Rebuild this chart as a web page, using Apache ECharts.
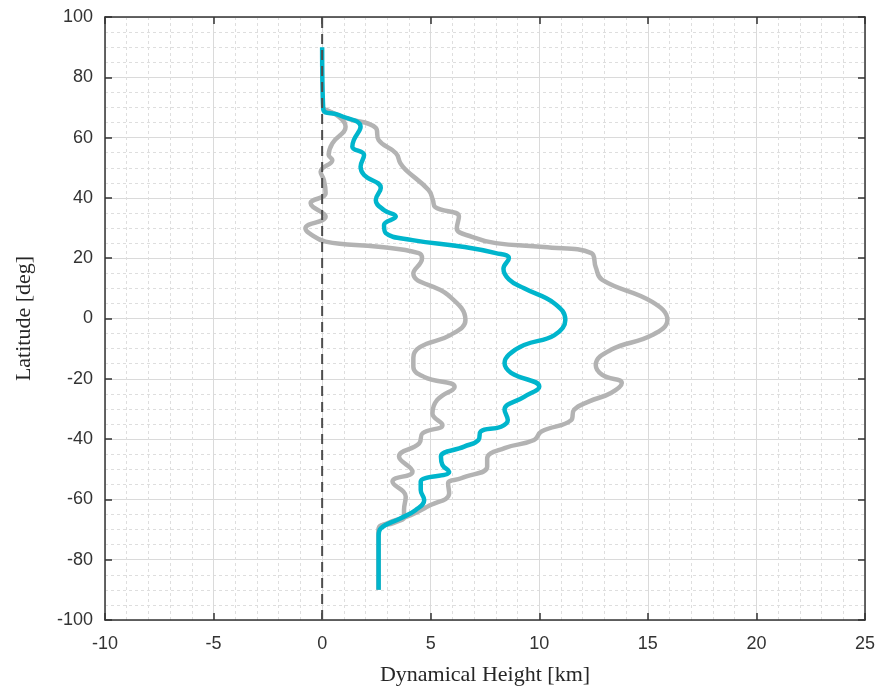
<!DOCTYPE html>
<html>
<head>
<meta charset="utf-8">
<script src="https://cdn.jsdelivr.net/npm/echarts@6/dist/echarts.min.js"></script>
<style>
    html, body { margin: 0; padding: 0; background: #fff; }
    #chart { width: 883px; height: 695px; }
</style>
</head>
<body>
<div id="chart"></div>
<script>
// mean profile (cyan)
const meanLat = [90, 69.5, 67.5, 63.6, 59.2, 57, 54.2, 50.3, 47.6, 43.3, 39.3, 36, 33.8, 31, 28.3, 26, 23.8, 21.7, 20, 16.5, 13, 10, 5, -0.5, -5.5, -8.8, -12, -14.8, -18, -22.6, -26, -30.3, -33.7, -35.9, -37.5, -40.3, -42.5, -45.8, -48.6, -50.8, -54.1, -56.9, -60.2, -63.5, -66.3, -69.6, -72, -90];
const meanX = [0, 0.05, 0.77, 1.77, 1.46, 1.39, 1.93, 1.77, 1.93, 2.7, 2.47, 2.84, 3.39, 2.85, 2.93, 4.16, 6.47, 8.0, 8.6, 8.35, 8.6, 9.3, 10.7, 11.2, 10.7, 9.3, 8.6, 8.4, 8.7, 10.0, 9.3, 8.4, 8.55, 8.24, 7.3, 7.2, 6.54, 5.47, 5.54, 5.85, 4.54, 4.54, 4.7, 4.31, 3.6, 2.7, 2.6, 2.6];

// upper bound (grey, right)
const upperLat = [69.5, 66.5, 63.2, 59.2, 54.8, 51.5, 49.3, 42.6, 39.3, 37, 33.8, 29.9, 27.1, 25, 23.7, 21.7, 17, 12.8, 5.5, -0.5, -5.5, -10.4, -15.4, -18.7, -21.4, -24.7, -27.5, -30.3, -33.7, -37.5, -40.3, -43, -46.4, -49.2, -53, -54.7, -58, -62.4, -65.2, -67.9, -70, -90];
const upperX = [0.05, 1.08, 2.47, 2.6, 3.4, 3.6, 3.85, 4.9, 5.1, 5.2, 6.3, 6.2, 6.9, 8.0, 10.2, 12.4, 12.6, 12.9, 15.2, 15.9, 15.2, 13.3, 12.6, 12.9, 13.8, 13.3, 12.3, 11.6, 11.47, 10.1, 9.76, 8.4, 7.6, 7.6, 6.4, 5.8, 5.85, 4.85, 4.08, 3.0, 2.6, 2.6];

// lower bound (grey, left)
const lowerLat = [69.5, 66.9, 63.6, 58.1, 54.2, 52.6, 48.7, 45.9, 41.6, 38.2, 33.8, 29.9, 28.3, 25.5, 23.8, 21.7, 20, 15, 7.8, -0.5, -5.5, -9.5, -13, -16, -19.4, -22.7, -27, -31.5, -35.3, -38.1, -41.4, -45.8, -50.8, -54.1, -59.1, -63.5, -65.8, -67.8, -70, -90];
const lowerX = [0.05, 0.77, 1.08, 0.47, 0.3, 0.47, -0.07, 0.08, 0.16, -0.53, 0.16, -0.77, -0.6, 0.16, 2.6, 4.45, 4.6, 4.2, 5.8, 6.6, 5.9, 4.5, 4.2, 4.2, 4.7, 6.1, 5.3, 5.08, 5.54, 4.62, 4.47, 3.54, 4.16, 3.24, 3.85, 3.77, 3.77, 3.3, 2.6, 2.6];

const xTicks = [-10, -5, 0, 5, 10, 15, 20, 25];
const yTicks = [-100, -80, -60, -40, -20, 0, 20, 40, 60, 80, 100];
const zeroLine = [[0, -100], [0, 100]];

function pairs(xs, lats) {
    return xs.map((x, i) => [x, lats[i]]);
}

const chart = echarts.init(document.getElementById('chart'));

const axisText = { color: '#333333', fontSize: 18, fontFamily: 'Liberation Sans, Arial, sans-serif' };
const nameText = { color: '#262626', fontSize: 22, fontFamily: 'Liberation Serif, serif' };
const frame = { show: true, onZero: false, lineStyle: { color: '#333333', width: 1.5 } };
const ticks = { show: true, inside: true, length: 7, lineStyle: { color: '#333333', width: 1.5 } };

const option = {
    animation: false,
    grid: {
        left: 105,
        right: 18,
        top: 17,
        bottom: 75
    },
    xAxis: [
        {
            type: 'value',
            min: xTicks[0],
            max: xTicks[xTicks.length - 1],
            interval: 5,
            name: 'Dynamical Height [km]',
            nameLocation: 'middle',
            nameGap: 44,
            nameTextStyle: nameText,
            axisLine: frame,
            axisTick: ticks,
            axisLabel: Object.assign({ margin: 15 }, axisText),
            splitLine: { show: true, lineStyle: { color: '#dadada', width: 1 } },
            minorTick: { show: false, splitNumber: 5 },
            minorSplitLine: { show: true, lineStyle: { color: '#dedede', type: [3, 3], width: 1 } }
        },
        {
            type: 'value',
            position: 'top',
            min: xTicks[0],
            max: xTicks[xTicks.length - 1],
            interval: 5,
            axisLine: frame,
            axisTick: ticks,
            axisLabel: { show: false },
            splitLine: { show: false }
        }
    ],
    yAxis: [
        {
            type: 'value',
            min: yTicks[0],
            max: yTicks[yTicks.length - 1],
            interval: 20,
            name: 'Latitude [deg]',
            nameLocation: 'middle',
            nameGap: 70,
            nameTextStyle: nameText,
            axisLine: frame,
            axisTick: ticks,
            axisLabel: Object.assign({ margin: 12 }, axisText),
            splitLine: { show: true, lineStyle: { color: '#dadada', width: 1 } },
            minorTick: { show: false, splitNumber: 4 },
            minorSplitLine: { show: true, lineStyle: { color: '#dedede', type: [3, 3], width: 1 } }
        },
        {
            type: 'value',
            position: 'right',
            min: yTicks[0],
            max: yTicks[yTicks.length - 1],
            interval: 20,
            axisLine: frame,
            axisTick: ticks,
            axisLabel: { show: false },
            splitLine: { show: false }
        }
    ],
    series: [
        {
            name: 'lower',
            type: 'line',
            data: pairs(lowerX, lowerLat),
            smooth: 0.45,
            showSymbol: false,
            lineStyle: { color: '#b3b3b3', width: 4.5 },
            z: 2
        },
        {
            name: 'upper',
            type: 'line',
            data: pairs(upperX, upperLat),
            smooth: 0.45,
            showSymbol: false,
            lineStyle: { color: '#b3b3b3', width: 4.5 },
            z: 2
        },
        {
            name: 'mean',
            type: 'line',
            data: pairs(meanX, meanLat),
            smooth: 0.45,
            showSymbol: false,
            lineStyle: { color: '#00b5cc', width: 4.5 },
            z: 3
        },
        {
            name: 'zero',
            type: 'line',
            data: zeroLine,
            showSymbol: false,
            lineStyle: { color: '#4d4d4d', width: 2, type: [10, 6] },
            z: 4
        }
    ]
};

chart.setOption(option);
window.addEventListener('resize', function() {
    chart.resize();
});
</script>
</body>
</html>
